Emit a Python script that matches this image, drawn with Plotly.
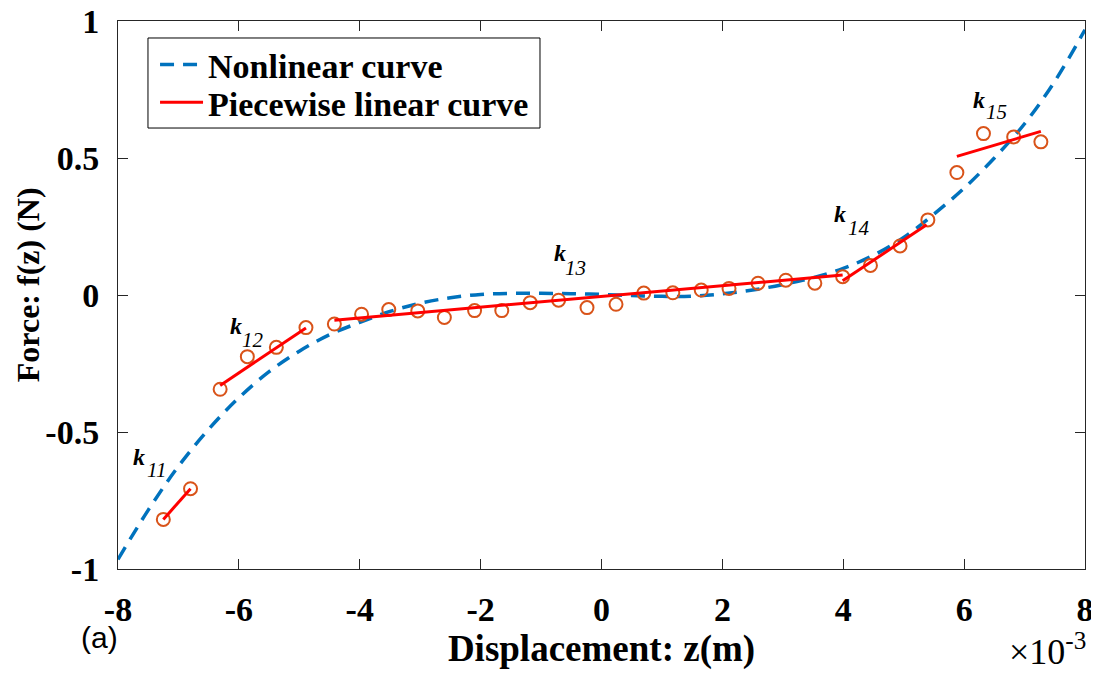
import plotly.graph_objects as go

# Nonlinear curve, z in units of 1e-3 m
curve_z = [-8, -7.5, -7, -6.5, -6, -5.5, -5, -4.5, -4, -3.5, -3, -2.5, -2, -1.5, -1, -0.5,
           0, 0.5, 1, 1.5, 2, 2.5, 3, 3.5, 4, 4.5, 5, 5.5, 6, 6.5, 7, 7.5, 8]
curve_f = [-0.965, -0.785, -0.625, -0.49, -0.375, -0.28, -0.205, -0.145, -0.10, -0.06, -0.03,
           -0.01, 0.002, 0.006, 0.006, 0.005, 0.002, -0.002, -0.005, -0.004, 0.004, 0.018,
           0.038, 0.063, 0.097, 0.145, 0.21, 0.295, 0.39, 0.50, 0.625, 0.78, 0.968]

# Measured samples (open circles)
pts_z = [-7.25, -6.80, -6.31, -5.86, -5.38, -4.89, -4.42, -3.97, -3.52, -3.04, -2.60, -2.10,
         -1.65, -1.18, -0.71, -0.24, 0.24, 0.70, 1.18, 1.65, 2.11, 2.59, 3.05, 3.53, 3.99,
         4.45, 4.94, 5.40, 5.88, 6.32, 6.82, 7.27]
pts_f = [-0.819, -0.707, -0.344, -0.225, -0.191, -0.119, -0.106, -0.070, -0.053, -0.058,
         -0.082, -0.057, -0.057, -0.028, -0.019, -0.046, -0.034, 0.007, 0.008, 0.018, 0.024,
         0.043, 0.054, 0.043, 0.067, 0.108, 0.179, 0.274, 0.447, 0.589, 0.577, 0.559]

# Piecewise linear segments (endpoints, None separates segments)
seg_z = [-7.25, -6.80, None, -6.31, -4.89, None, -4.42, 3.99, None, 3.99, 5.38, None, 5.88, 7.27]
seg_f = [-0.819, -0.707, None, -0.33, -0.12, None, -0.092, 0.073, None, 0.052, 0.256, None, 0.506, 0.597]

# Slope labels
k_subs = ["11", "12", "13", "14", "15"]
k_pos_z = [-7.66, -6.05, -0.68, 3.95, 6.25]
k_pos_f = [-0.591, -0.113, 0.155, 0.294, 0.712]
sub_pos_z = [-7.36, -5.76, -0.43, 4.26, 6.54]
sub_pos_f = [-0.639, -0.164, 0.100, 0.243, 0.667]

x_ticks = [-8, -6, -4, -2, 0, 2, 4, 6, 8]
x_ticktext = ["-8", "-6", "-4", "-2", "0", "2", "4", "6", "8"]
y_ticks = [-1, -0.5, 0, 0.5, 1]
y_ticktext = ["-1", "-0.5", "0", "0.5", "1"]

SERIF = "Liberation Serif"
AX = "#262626"

fig = go.Figure()
fig.add_trace(go.Scatter(x=curve_z, y=curve_f, mode="lines", name="<b>Nonlinear curve</b>",
                         legend="legend",
                         line=dict(color="#0072BD", width=3.5, dash="14px,9px", shape="spline")))
fig.add_trace(go.Scatter(x=pts_z, y=pts_f, mode="markers", showlegend=False,
                         marker=dict(symbol="circle-open", size=13, color="#D95319",
                                     line=dict(width=2, color="#D95319"))))
fig.add_trace(go.Scatter(x=seg_z, y=seg_f, mode="lines", name="<b>Piecewise linear curve</b>",
                         legend="legend2",
                         line=dict(color="#FF0000", width=3)))

ann = []
for i in range(len(k_subs)):
    ann.append(dict(x=k_pos_z[i], y=k_pos_f[i], xref="x", yref="y", text="<b><i>k</i></b>",
                    showarrow=False, xanchor="center", yanchor="middle",
                    font=dict(family=SERIF, size=24, color="black")))
    ann.append(dict(x=sub_pos_z[i], y=sub_pos_f[i], xref="x", yref="y", text="<i>" + k_subs[i] + "</i>",
                    showarrow=False, xanchor="center", yanchor="middle",
                    font=dict(family=SERIF, size=21, color="black")))
ann.append(dict(x=-0.019, y=-0.125, xref="paper", yref="paper", text="(a)", showarrow=False,
                xanchor="center", yanchor="middle",
                font=dict(family="Liberation Sans", size=30, color="black")))
ann.append(dict(x=1.003, y=-0.146, xref="paper", yref="paper", text="×10<sup>-3</sup>",
                showarrow=False, xanchor="right", yanchor="middle",
                font=dict(family=SERIF, size=36, color="black")))
# y-axis title
ann.append(dict(x=-0.093, y=0.518, xref="paper", yref="paper", text="<b>Force: f(z) (N)</b>",
                showarrow=False, textangle=-90, xanchor="center", yanchor="middle",
                font=dict(family=SERIF, size=32, color="black")))

legend_common = dict(xanchor="left", yanchor="middle", bgcolor="rgba(0,0,0,0)",
                     borderwidth=0, itemwidth=43,
                     font=dict(family=SERIF, size=34, color="black"))

# The page body adds an 8px offset, so the figure is 8px smaller than the window
fig.update_layout(
    width=1091, height=665,
    margin=dict(l=110, r=14, t=13, b=104),
    paper_bgcolor="white", plot_bgcolor="white",
    showlegend=True,
    legend=dict(x=0.0383, y=0.920, **legend_common),
    legend2=dict(x=0.0383, y=0.851, **legend_common),
    shapes=[dict(type="rect", xref="paper", yref="paper", x0=0.031, x1=0.4364,
                 y0=0.8047, y1=0.969, line=dict(color="black", width=1),
                 fillcolor="white", layer="above")],
    annotations=ann,
    xaxis=dict(range=[-8, 8], tickmode="array", tickvals=x_ticks, ticktext=x_ticktext,
               showgrid=False, zeroline=False, showline=True, linecolor=AX, linewidth=1,
               mirror="ticks", ticks="inside", ticklen=10, tickwidth=1, tickcolor=AX,
               ticklabelstandoff=10, automargin=False, ticklabeloverflow="allow",
               tickfont=dict(family=SERIF, size=34, color="black", weight="bold"),
               title=dict(text="<b>Displacement: z(m)</b>", standoff=8,
                          font=dict(family=SERIF, size=37, color="black"))),
    yaxis=dict(range=[-1, 1], tickmode="array", tickvals=y_ticks, ticktext=y_ticktext,
               showgrid=False, zeroline=False, showline=True, linecolor=AX, linewidth=1,
               mirror="ticks", ticks="inside", ticklen=10, tickwidth=1, tickcolor=AX,
               ticklabelstandoff=11, automargin=False, ticklabeloverflow="allow",
               tickfont=dict(family=SERIF, size=34, color="black", weight="bold")),
)

fig.write_html("out.html")
